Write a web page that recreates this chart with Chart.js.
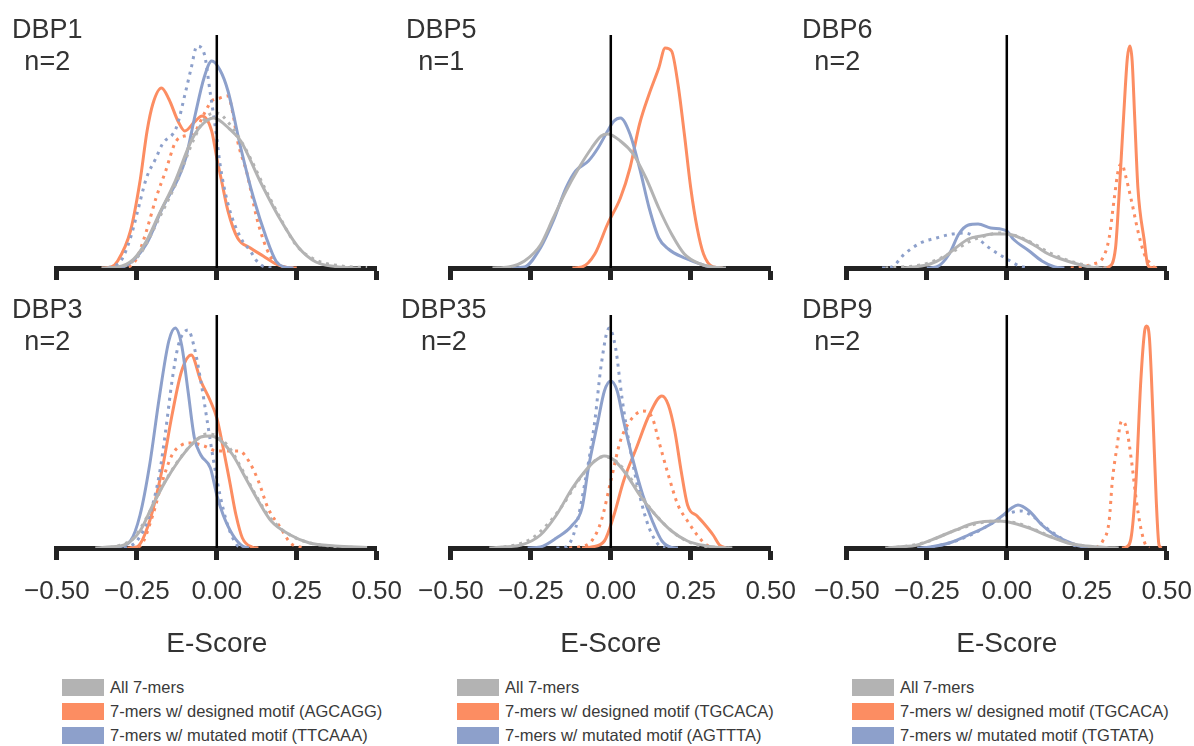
<!DOCTYPE html>
<html>
<head>
<meta charset="utf-8">
<script src="https://cdn.jsdelivr.net/npm/chart.js@4.4.1/dist/chart.umd.min.js"></script>
<style>
  body { margin: 0; background: #fff; width: 1194px; height: 746px; position: relative; overflow: hidden;
         font-family: "Liberation Sans", Arial, sans-serif; }
  canvas { position: absolute; }
  .tag { position: absolute; font-size: 27px; line-height: 32px; color: #333; text-align: center; white-space: pre; }
  .legend { position: absolute; top: 679px; font-family: "Liberation Sans", Arial, sans-serif;
            font-size: 16.5px; color: #3a3a3a; }
  .legend div { height: 17px; line-height: 17px; margin-bottom: 7px; white-space: nowrap; }
  .legend span { display: inline-block; width: 42px; height: 17px; vertical-align: top; margin-right: 6px; }
</style>
</head>
<body>
<script>
// E-score density curves, [x, density]; R1 = solid, R2 = dotted
const dbp1AllR1 = [[-0.36,0],[-0.31,0.1],[-0.26,0.9],[-0.22,2.7],[-0.18,5.4],[-0.13,8.7],[-0.08,12.7],[-0.05,14.2],[-0.01,15.0],[0.04,13.9],[0.075,12.7],[0.135,8.7],[0.196,5.0],[0.257,2.0],[0.31,0.6],[0.37,0.15],[0.45,0]];
const dbp1AllR2 = [[-0.34,0],[-0.30,0.1],[-0.24,1.4],[-0.18,5.0],[-0.12,9.0],[-0.07,13.0],[-0.03,15.2],[0.0,15.5],[0.04,14.4],[0.09,11.9],[0.15,8.0],[0.20,4.9],[0.25,2.2],[0.31,0.8],[0.39,0.2],[0.47,0.05]];
const dbp1DesR1 = [[-0.36,0],[-0.33,0.1],[-0.31,0.7],[-0.27,3.7],[-0.24,8.7],[-0.218,13.7],[-0.20,16.4],[-0.173,18.0],[-0.15,16.9],[-0.12,14.6],[-0.10,13.7],[-0.07,14.6],[-0.046,15.2],[-0.016,13.7],[0.0,11.0],[0.015,8.7],[0.035,5.7],[0.065,3.0],[0.105,2.0],[0.145,1.2],[0.185,0.4],[0.22,0.05],[0.25,0]];
const dbp1DesR2 = [[-0.30,0],[-0.27,0.2],[-0.25,1.0],[-0.22,3.7],[-0.19,7.0],[-0.16,9.7],[-0.127,12.7],[-0.09,13.3],[-0.067,13.7],[-0.04,15.4],[-0.016,16.7],[0.01,17.0],[0.035,17.2],[0.05,15.5],[0.065,12.7],[0.095,9.4],[0.125,5.0],[0.155,2.0],[0.18,0.6],[0.21,0.1],[0.24,0]];
const dbp1MutR1 = [[-0.32,0],[-0.28,0.3],[-0.22,2.4],[-0.17,6.0],[-0.12,9.0],[-0.097,11.0],[-0.067,15.4],[-0.04,19.0],[-0.016,20.7],[0.01,19.8],[0.035,17.7],[0.075,12.0],[0.115,7.0],[0.155,3.0],[0.185,0.7],[0.21,0.1],[0.24,0]];
const dbp1MutR2 = [[-0.34,0],[-0.30,0.7],[-0.27,3.0],[-0.245,6.0],[-0.22,9.0],[-0.19,11.0],[-0.17,12.4],[-0.127,14.0],[-0.097,17.7],[-0.08,20.0],[-0.062,22.2],[-0.04,21.5],[-0.02,17.4],[0.0,13.0],[0.01,10.4],[0.035,6.4],[0.075,3.0],[0.105,1.7],[0.125,0.7],[0.15,0.1],[0.18,0]];

const dbp5AllR1 = [[-0.37,0],[-0.32,0.1],[-0.27,0.7],[-0.22,2.3],[-0.18,5.0],[-0.14,7.7],[-0.10,10.0],[-0.06,12.0],[-0.03,13.2],[-0.01,13.4],[0.03,12.7],[0.07,11.4],[0.11,9.0],[0.15,6.0],[0.19,3.4],[0.23,1.4],[0.28,0.4],[0.32,0.1],[0.36,0]];
const dbp5DesR1 = [[-0.12,0],[-0.09,0.1],[-0.05,1.4],[-0.01,4.4],[0.03,7.0],[0.06,10.0],[0.09,14.4],[0.12,17.4],[0.15,20.0],[0.17,22.0],[0.19,21.7],[0.21,18.4],[0.23,13.4],[0.25,8.0],[0.27,4.0],[0.29,1.4],[0.32,0.1],[0.35,0]];
const dbp5MutR1 = [[-0.31,0],[-0.27,0.1],[-0.22,2.0],[-0.18,4.7],[-0.14,8.0],[-0.11,9.7],[-0.07,10.7],[-0.04,12.0],[-0.01,13.7],[0.01,14.7],[0.03,15.0],[0.06,13.4],[0.09,10.0],[0.12,6.0],[0.15,3.0],[0.18,1.9],[0.23,1.0],[0.28,0.4],[0.31,0.1],[0.34,0]];

const dbp6AllR1 = [[-0.33,0],[-0.29,0.1],[-0.24,0.4],[-0.20,1.0],[-0.16,2.0],[-0.12,2.9],[-0.08,3.2],[-0.04,3.4],[0.0,3.4],[0.05,2.9],[0.09,2.2],[0.13,1.4],[0.17,0.9],[0.22,0.4],[0.26,0.1],[0.30,0]];
const dbp6AllR2 = [[-0.38,0],[-0.33,0.1],[-0.27,0.3],[-0.22,0.8],[-0.17,1.6],[-0.12,2.6],[-0.07,3.2],[-0.02,3.5],[0.03,3.2],[0.08,2.5],[0.13,1.6],[0.18,0.9],[0.23,0.4],[0.28,0.1],[0.32,0]];
const dbp6DesR1 = [[0.30,0],[0.318,0.1],[0.34,2.0],[0.35,6.7],[0.365,15.0],[0.377,21.0],[0.385,22.2],[0.392,20.7],[0.40,15.0],[0.41,8.0],[0.43,2.7],[0.44,0.4],[0.45,0.05],[0.47,0]];
const dbp6DesR2 = [[0.20,0],[0.23,0.1],[0.27,0.4],[0.30,1.0],[0.32,3.0],[0.335,6.7],[0.35,10.0],[0.36,10.4],[0.37,9.4],[0.39,6.7],[0.41,3.7],[0.43,1.4],[0.45,0.4],[0.46,0.1],[0.48,0]];
const dbp6MutR1 = [[-0.25,0],[-0.22,0.1],[-0.18,1.4],[-0.15,3.4],[-0.12,4.3],[-0.09,4.4],[-0.05,4.0],[0.0,3.7],[0.02,2.9],[0.07,1.7],[0.11,0.7],[0.15,0.1],[0.18,0]];
const dbp6MutR2 = [[-0.39,0],[-0.36,0.1],[-0.32,1.4],[-0.27,2.5],[-0.22,3.0],[-0.17,3.4],[-0.13,3.5],[-0.09,2.9],[-0.05,1.9],[0.0,0.9],[0.04,0.2],[0.07,0]];

const dbp3AllR1 = [[-0.38,0],[-0.34,0.1],[-0.29,0.3],[-0.24,1.7],[-0.20,4.3],[-0.16,6.7],[-0.12,8.7],[-0.08,10.3],[-0.05,11.1],[-0.02,11.2],[0.01,10.8],[0.05,9.3],[0.09,7.0],[0.13,4.7],[0.17,2.7],[0.23,1.3],[0.29,0.5],[0.37,0.2],[0.47,0.05]];
const dbp3AllR2 = [[-0.36,0],[-0.31,0.2],[-0.26,1.0],[-0.22,3.0],[-0.18,5.6],[-0.14,7.8],[-0.10,9.6],[-0.06,10.9],[-0.03,11.4],[0.0,11.2],[0.04,10.0],[0.08,7.8],[0.12,5.4],[0.16,3.3],[0.21,1.7],[0.27,0.7],[0.35,0.2],[0.45,0.05]];
const dbp3DesR1 = [[-0.28,0],[-0.25,0.1],[-0.21,2.7],[-0.17,8.0],[-0.14,13.3],[-0.11,17.7],[-0.08,19.3],[-0.05,16.7],[-0.02,14.7],[0.0,13.0],[0.02,10.0],[0.04,6.7],[0.06,3.3],[0.08,1.0],[0.11,0.1],[0.13,0]];
const dbp3DesR2 = [[-0.27,0],[-0.24,0.2],[-0.20,3.3],[-0.17,6.7],[-0.14,9.3],[-0.11,10.3],[-0.08,10.5],[-0.04,10.2],[0.0,9.7],[0.04,9.7],[0.07,9.7],[0.10,8.7],[0.13,6.7],[0.16,4.0],[0.20,2.0],[0.23,0.5],[0.26,0.1],[0.28,0]];
const dbp3MutR1 = [[-0.34,0],[-0.31,0.1],[-0.27,0.7],[-0.24,3.3],[-0.21,8.3],[-0.18,15.0],[-0.15,20.7],[-0.13,22.0],[-0.11,20.3],[-0.09,15.7],[-0.07,11.0],[-0.05,9.3],[-0.02,8.0],[0.0,5.3],[0.02,3.3],[0.05,1.3],[0.08,0.2],[0.10,0]];
const dbp3MutR2 = [[-0.29,0],[-0.25,0.7],[-0.21,3.3],[-0.18,7.3],[-0.16,11.7],[-0.14,16.7],[-0.12,20.3],[-0.09,21.8],[-0.07,20.0],[-0.05,16.7],[-0.03,12.7],[-0.01,8.7],[0.01,5.3],[0.03,2.7],[0.05,1.0],[0.07,0.1],[0.09,0]];

const dbp35AllR1 = [[-0.38,0],[-0.34,0.1],[-0.28,0.3],[-0.22,1.3],[-0.17,3.3],[-0.12,6.0],[-0.08,7.7],[-0.05,8.7],[-0.02,9.2],[0.01,8.8],[0.05,7.3],[0.09,5.3],[0.14,3.3],[0.19,1.7],[0.24,0.7],[0.30,0.2],[0.34,0.05],[0.38,0]];
const dbp35AllR2 = [[-0.36,0],[-0.30,0.3],[-0.25,0.9],[-0.20,2.3],[-0.15,4.3],[-0.10,6.8],[-0.06,8.4],[-0.03,9.1],[0.0,9.0],[0.04,7.9],[0.08,6.1],[0.12,4.1],[0.17,2.3],[0.22,1.0],[0.27,0.3],[0.33,0.05],[0.37,0]];
const dbp35DesR1 = [[-0.09,0],[-0.06,0.1],[-0.02,0.7],[0.01,3.3],[0.04,6.7],[0.08,10.0],[0.12,13.3],[0.16,15.2],[0.18,14.3],[0.20,11.7],[0.22,7.7],[0.24,4.3],[0.27,3.2],[0.29,2.5],[0.32,1.3],[0.34,0.3],[0.36,0]];
const dbp35DesR2 = [[-0.13,0],[-0.10,0.1],[-0.06,0.7],[-0.03,2.7],[0.0,6.7],[0.03,10.7],[0.06,12.7],[0.10,13.7],[0.13,13.0],[0.15,10.7],[0.18,7.3],[0.21,4.3],[0.24,2.7],[0.27,1.3],[0.30,0.3],[0.33,0]];
const dbp35MutR1 = [[-0.26,0],[-0.22,0.1],[-0.17,1.0],[-0.12,2.3],[-0.09,4.0],[-0.07,8.0],[-0.04,12.7],[-0.02,15.7],[0.0,16.7],[0.02,15.7],[0.04,12.7],[0.07,8.7],[0.10,5.3],[0.13,2.7],[0.16,0.7],[0.19,0.05],[0.21,0]];
const dbp35MutR2 = [[-0.17,0],[-0.14,0.1],[-0.11,2.0],[-0.08,6.7],[-0.05,12.7],[-0.03,18.3],[-0.005,22.0],[0.015,20.0],[0.035,15.0],[0.06,10.0],[0.09,5.3],[0.12,2.0],[0.15,0.3],[0.17,0]];

const dbp9AllR1 = [[-0.38,0],[-0.34,0.1],[-0.28,0.3],[-0.22,1.0],[-0.16,1.8],[-0.10,2.5],[-0.035,2.7],[0.005,2.6],[0.07,2.0],[0.13,1.2],[0.19,0.5],[0.25,0.2],[0.31,0.05],[0.35,0]];
const dbp9AllR2 = [[-0.37,0],[-0.31,0.2],[-0.25,0.6],[-0.19,1.4],[-0.13,2.1],[-0.07,2.6],[-0.02,2.7],[0.03,2.5],[0.09,1.8],[0.15,1.0],[0.21,0.4],[0.27,0.1],[0.33,0]];
const dbp9DesR1 = [[0.36,0],[0.374,0.1],[0.39,1.3],[0.404,6.7],[0.419,16.7],[0.431,21.7],[0.437,22.2],[0.446,21.0],[0.457,13.3],[0.467,5.0],[0.476,0.3],[0.485,0]];
const dbp9DesR2 = [[0.28,0],[0.30,0.7],[0.32,2.7],[0.33,6.7],[0.344,10.0],[0.359,12.7],[0.374,12.0],[0.39,8.7],[0.404,5.0],[0.419,2.0],[0.434,0.3],[0.445,0]];
const dbp9MutR1 = [[-0.28,0],[-0.24,0.1],[-0.18,0.5],[-0.12,1.3],[-0.055,2.3],[-0.015,3.2],[0.015,4.0],[0.035,4.3],[0.07,3.7],[0.11,2.3],[0.15,1.3],[0.20,0.5],[0.24,0.1],[0.27,0]];
const dbp9MutR2 = [[-0.26,0],[-0.22,0.2],[-0.16,0.7],[-0.10,1.5],[-0.05,2.4],[-0.01,3.2],[0.02,3.6],[0.045,3.7],[0.08,3.2],[0.12,2.1],[0.16,1.2],[0.20,0.4],[0.24,0]];

const panelNames = ['DBP1', 'DBP5', 'DBP6', 'DBP3', 'DBP35', 'DBP9'];
const replicates = [2, 1, 2, 2, 2, 2];
const designedMotifs = ['AGCAGG', 'TGCACA', 'TGCACA'];
const mutatedMotifs = ['TTCAAA', 'AGTTTA', 'TGTATA'];
const tickValues = [-0.5, -0.25, 0, 0.25, 0.5];
const tickLabels = ['\u22120.50', '\u22120.25', '0.00', '0.25', '0.50'];

// curves per panel: [all, designed, mutated] x [rep1, rep2]
const curves = [
  [[dbp1AllR1, dbp1AllR2], [dbp1DesR1, dbp1DesR2], [dbp1MutR1, dbp1MutR2]],
  [[dbp5AllR1], [dbp5DesR1], [dbp5MutR1]],
  [[dbp6AllR1, dbp6AllR2], [dbp6DesR1, dbp6DesR2], [dbp6MutR1, dbp6MutR2]],
  [[dbp3AllR1, dbp3AllR2], [dbp3DesR1, dbp3DesR2], [dbp3MutR1, dbp3MutR2]],
  [[dbp35AllR1, dbp35AllR2], [dbp35DesR1, dbp35DesR2], [dbp35MutR1, dbp35MutR2]],
  [[dbp9AllR1, dbp9AllR2], [dbp9DesR1, dbp9DesR2], [dbp9MutR1, dbp9MutR2]]
];

const GRAY = '#b3b3b3', ORANGE = '#fc8d62', BLUE = '#8da0cb';
const groupColors = [GRAY, ORANGE, BLUE];

const colLeft = [48, 442, 838];
const rowTop = [35, 315];
const plotW = 330, plotH = 233, yMax = 23.3;
const tagPos = [[12, 13], [406, 13], [802, 13], [12, 293], [401, 293], [802, 293]];

Chart.defaults.font.family = '"Liberation Sans", Arial, sans-serif';

function toXY(pts) {
  return pts.map(p => ({ x: p[0], y: p[1] }));
}

panelNames.forEach((name, i) => {
  const col = i % 3, row = Math.floor(i / 3);
  const padX = 40, padTop = 10;
  const scaleH = row === 1 ? 120 : 20;

  const cv = document.createElement('canvas');
  cv.width = plotW + 2 * padX;
  cv.height = padTop + plotH + scaleH;
  cv.style.left = (colLeft[col] - padX) + 'px';
  cv.style.top = (rowTop[row] - padTop) + 'px';
  document.body.appendChild(cv);

  const tag = document.createElement('div');
  tag.className = 'tag';
  tag.style.left = tagPos[i][0] + 'px';
  tag.style.top = tagPos[i][1] + 'px';
  tag.textContent = name + '\nn=' + replicates[i];
  document.body.appendChild(tag);

  // black zero line first so it is drawn on top
  const datasets = [{
    data: [{ x: 0, y: 0 }, { x: 0, y: yMax }],
    borderColor: '#000', borderWidth: 2.5, tension: 0, cubicInterpolationMode: 'default'
  }];
  // gray on top, then blue, then orange underneath
  [0, 2, 1].forEach(g => {
    curves[i][g].forEach((pts, r) => {
      datasets.push({
        data: toXY(pts),
        borderColor: groupColors[g],
        borderWidth: 3,
        borderDash: r === 1 ? [3, 5] : [],
        cubicInterpolationMode: 'monotone'
      });
    });
  });

  new Chart(cv, {
    type: 'line',
    data: { datasets },
    options: {
      responsive: false,
      animation: false,
      events: [],
      layout: { padding: { left: padX, right: padX, top: padTop, bottom: 0 } },
      elements: { point: { radius: 0 } },
      plugins: { legend: { display: false }, tooltip: { enabled: false } },
      scales: {
        x: {
          type: 'linear', min: -0.5, max: 0.5,
          afterBuildTicks: s => { s.ticks = tickValues.map(v => ({ value: v })); },
          afterFit: s => { s.height = scaleH; },
          grid: { drawOnChartArea: false, drawTicks: true, tickLength: 12, tickWidth: 5, tickColor: '#222' },
          border: { display: true, width: 5, color: '#222' },
          ticks: {
            color: row === 1 ? '#333' : 'rgba(0,0,0,0)',
            padding: 16, maxRotation: 0, autoSkip: false,
            font: { size: 26 },
            callback: v => tickLabels[tickValues.indexOf(v)]
          },
          title: { display: row === 1, text: 'E-Score', color: '#333', font: { size: 28 }, padding: { top: 0, bottom: 7 } }
        },
        y: { display: false, min: 0, max: yMax }
      }
    }
  });
});

// legends under each column
const legendLeft = [62, 457, 852];
legendLeft.forEach((left, c) => {
  const box = document.createElement('div');
  box.className = 'legend';
  box.style.left = left + 'px';
  const labels = ['All 7-mers',
    '7-mers w/ designed motif (' + designedMotifs[c] + ')',
    '7-mers w/ mutated motif (' + mutatedMotifs[c] + ')'];
  labels.forEach((txt, g) => {
    const row = document.createElement('div');
    const sw = document.createElement('span');
    sw.style.background = groupColors[g];
    row.appendChild(sw);
    row.appendChild(document.createTextNode(txt));
    box.appendChild(row);
  });
  document.body.appendChild(box);
});
</script>
</body>
</html>
